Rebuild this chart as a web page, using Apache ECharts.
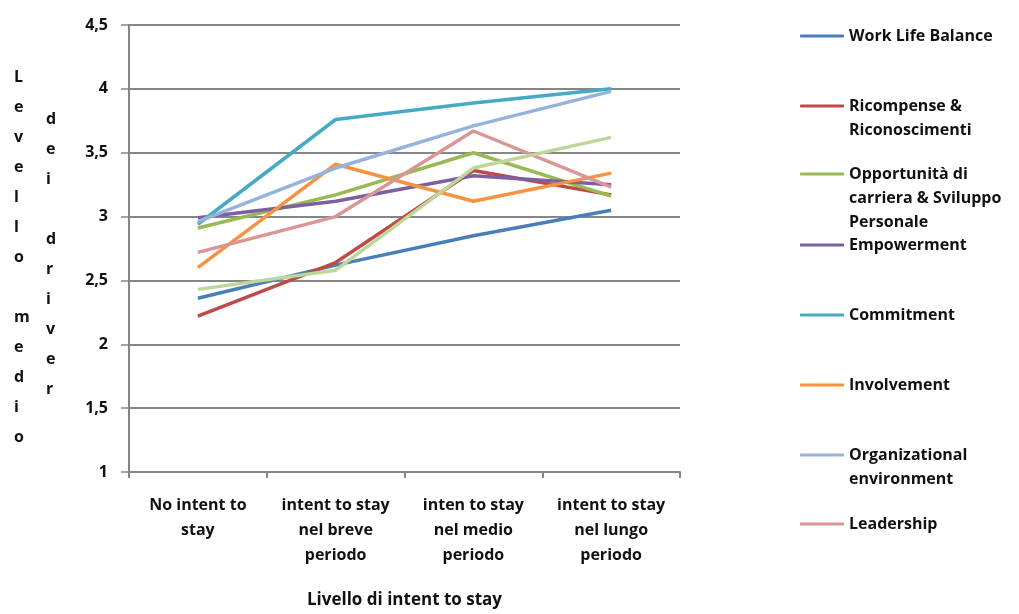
<!DOCTYPE html>
<html>
<head>
<meta charset="utf-8">
<script src="https://cdn.jsdelivr.net/npm/echarts@6/dist/echarts.min.js"></script>
<style>
  html, body { margin: 0; padding: 0; background: #fff; }
  #chart { width: 1019px; height: 614px; }
</style>
</head>
<body>
<div id="chart"></div>
<script>
// Livello di intent to stay (categorie sull'asse x)
const categories = [
  'No intent to\nstay',
  'intent to stay\nnel breve\nperiodo',
  'inten to stay\nnel medio\nperiodo',
  'intent to stay\nnel lungo\nperiodo'
];

// Livello medio dei driver per ciascuna categoria
const workLifeBalance   = [2.36, 2.62, 2.85, 3.05];
const ricompense        = [2.22, 2.64, 3.36, 3.17];
const opportunita       = [2.91, 3.17, 3.50, 3.16];
const empowerment       = [2.99, 3.12, 3.32, 3.25];
const commitment        = [2.94, 3.76, 3.89, 4.00];
const involvement       = [2.60, 3.41, 3.12, 3.34];
const organizational    = [2.96, 3.38, 3.71, 3.98];
const leadership        = [2.72, 3.00, 3.67, 3.23];
const serie9            = [2.43, 2.58, 3.38, 3.62];

const yTicks = { min: 1, max: 4.5, interval: 0.5 };

// Righe di testo della legenda per ogni driver
const legendLines = [
  ['Work Life Balance'],
  ['Ricompense &', 'Riconoscimenti'],
  ['Opportunità di', 'carriera & Sviluppo', 'Personale'],
  ['Empowerment'],
  ['Commitment'],
  ['Involvement'],
  ['Organizational', 'environment'],
  ['Leadership']
];

const seriesValues = [workLifeBalance, ricompense, opportunita, empowerment,
  commitment, involvement, organizational, leadership, serie9];
const colors = ['#4A7EBB', '#BE4B48', '#98B954', '#7D60A0',
  '#46AAC5', '#F69240', '#95B3DC', '#D99694', '#BFD69A'];
const seriesNames = legendLines.map(l => l.join(' ')).concat(['Serie 9']);

const FONT = '"Open Sans", sans-serif';
const TEXT = '#111';
const legendX = 800;
const legendY = [36, 106, 174, 245, 315, 385, 455, 524];
const lineGap = 24;

const legends = legendLines.map((lines, i) => ({
  data: [seriesNames[i]],
  left: legendX,
  top: legendY[i] - 12,
  padding: 0,
  itemWidth: 44,
  itemHeight: 3,
  icon: 'roundRect',
  selectedMode: false,
  formatter: name => lines[0],
  textStyle: { fontFamily: FONT, fontSize: 16, fontWeight: 'bold', color: TEXT, lineHeight: 24 }
}));

const graphics = [];
legendLines.forEach((lines, i) => {
  lines.slice(1).forEach((t, k) => {
    graphics.push({
      type: 'text', left: legendX + 49, top: legendY[i] - 12 + (k + 1) * lineGap,
      style: { text: t, font: 'bold 16px ' + FONT, fill: TEXT, lineHeight: 24 }
    });
  });
});
// Titolo dell'asse y, una lettera per riga su due colonne
graphics.push({
  type: 'text', left: 14, top: 62,
  style: { text: 'L\ne\nv\ne\nl\nl\no\n\nm\ne\nd\ni\no', font: 'bold 16px ' + FONT,
           fill: TEXT, lineHeight: 30, align: 'center' }
});
graphics.push({
  type: 'text', left: 46, top: 104,
  style: { text: 'd\ne\ni\n\nd\nr\ni\nv\ne\nr', font: 'bold 16px ' + FONT,
           fill: TEXT, lineHeight: 30, align: 'center' }
});

const chart = echarts.init(document.getElementById('chart'));
chart.setOption({
  animation: false,
  backgroundColor: '#fff',
  color: colors,
  grid: { left: 129, right: 339, top: 25, bottom: 137, containLabel: false },
  legend: legends,
  graphic: graphics,
  xAxis: {
    type: 'category',
    data: categories,
    boundaryGap: true,
    name: 'Livello di intent to stay',
    nameLocation: 'middle',
    nameGap: 120,
    nameTextStyle: { fontFamily: FONT, fontSize: 17, fontWeight: 'bold', color: TEXT },
    axisLine: { lineStyle: { color: '#868686', width: 2 } },
    axisTick: { show: true, interval: 0, length: 6, lineStyle: { color: '#868686', width: 2 } },
    axisLabel: { interval: 0, fontFamily: FONT, fontSize: 16, fontWeight: 'bold', color: TEXT, lineHeight: 25, margin: 21 }
  },
  yAxis: {
    type: 'value',
    min: yTicks.min,
    max: yTicks.max,
    interval: yTicks.interval,
    axisLine: { show: true, lineStyle: { color: '#868686', width: 2 } },
    axisTick: { show: true, length: 8, lineStyle: { color: '#868686', width: 1.5 } },
    splitLine: { lineStyle: { color: '#868686', width: 2 } },
    axisLabel: {
      fontFamily: FONT, fontSize: 16, fontWeight: 'bold', color: TEXT, margin: 21,
      formatter: v => String(v).replace('.', ',')
    }
  },
  series: seriesValues.map((vals, i) => ({
    name: seriesNames[i],
    type: 'line',
    data: vals,
    symbol: 'none',
    lineStyle: { width: 3.5, color: colors[i] },
    itemStyle: { color: colors[i] }
  }))
});
</script>
</body>
</html>
